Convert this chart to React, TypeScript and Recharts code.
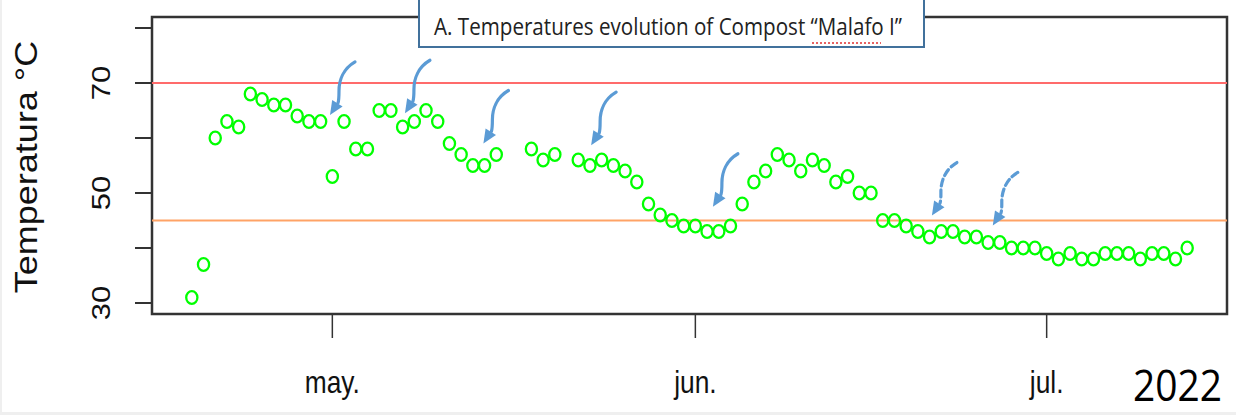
import { ReferenceArea, ReferenceDot, ReferenceLine, Scatter, ScatterChart, XAxis, YAxis } from "recharts"

// days counted from 1 May 2022 (0 = may 1, 31 = jun 1, 61 = jul 1)
const days = [
  -12, -11, -10, -9, -8, -7, -6, -5, -4, -3, -2, -1, 0, 1, 2, 3, 4, 5, 6, 7, 8, 9, 10, 11, 12, 13, 14,
  17, 18, 19,
  21, 22, 23, 24, 25, 26, 27, 28, 29, 30, 31, 32, 33, 34, 35, 36, 37, 38, 39, 40, 41, 42, 43, 44, 45, 46,
  47, 48, 49, 50, 51, 52, 53, 54, 55, 56, 57, 58, 59, 60, 61, 62, 63, 64, 65, 66, 67, 68, 69, 70, 71, 72, 73,
]
const temps = [
  31, 37, 60, 63, 62, 68, 67, 66, 66, 64, 63, 63, 53, 63, 58, 58, 65, 65, 62, 63, 65, 63, 59, 57, 55, 55, 57,
  58, 56, 57,
  56, 55, 56, 55, 54, 52, 48, 46, 45, 44, 44, 43, 43, 44, 48, 52, 54, 57, 56, 54, 56, 55, 52, 53, 50, 50,
  45, 45, 44, 43, 42, 43, 43, 42, 42, 41, 41, 40, 40, 40, 39, 38, 39, 38, 38, 39, 39, 39, 38, 39, 39, 38, 40,
]

const monthTicks = [0, 31, 61]
const monthLabels = ["may.", "jun.", "jul."]
const yTicks = [30, 40, 50, 60, 70, 80]
const yLabelled = [30, 50, 70]
const upperLimit = 70
const lowerLimit = 45

// arrow tips (day, temperature) and whether drawn dashed
const arrowDays = [-0.2, 6.2, 12.9, 22.1, 32.5, 51.2, 56.4]
const arrowTemps = [64.2, 64.5, 59.0, 58.7, 47.5, 45.9, 44.1]
const arrowDashed = [false, false, false, false, false, true, true]

const data = days.map((d, i) => ({ day: d, temp: temps[i] }))

const Ring = (props: any) => {
  const { cx, cy } = props
  return <ellipse cx={cx} cy={cy} rx={5.6} ry={6.3} fill="none" stroke="#00ff00" strokeWidth={2.3} />
}

const makeArrow = (dashed: boolean) => (props: any) => {
  const { cx, cy } = props
  return (
    <g transform={`translate(${cx},${cy})`}>
      <path
        d="M 25 -53 C 13 -46 9 -34 9 -24 C 9 -18 9 -15 8 -12"
        fill="none"
        stroke="#5b9bd5"
        strokeWidth={3.2}
        strokeLinecap="round"
        strokeDasharray={dashed ? "7 4" : undefined}
      />
      <polygon points="0,0 12.6,-8.4 2.2,-15" fill="#5b9bd5" />
    </g>
  )
}

const MonthTick = (props: any) => {
  const { x, y, payload } = props
  const label = monthLabels[monthTicks.indexOf(payload.value)]
  return (
    <text
      transform={`translate(${x},${y + 53}) scale(0.85,1)`}
      textAnchor="middle"
      fontFamily="Liberation Sans, Arial, sans-serif"
      fontSize={31}
      fill="#111"
    >
      {label}
    </text>
  )
}

const TempTick = (props: any) => {
  const { x, y, payload } = props
  if (!yLabelled.includes(payload.value)) return null
  return (
    <text
      transform={`translate(${x - 23},${y}) scale(0.85,1) rotate(-90)`}
      textAnchor="middle"
      fontFamily="Liberation Sans, Arial, sans-serif"
      fontSize={31}
      fill="#111"
    >
      {payload.value}
    </text>
  )
}

export default function App() {
  return (
    <div style={{ position: "absolute", left: 0, top: 0, width: 1236, height: 415, background: "#fff" }}>
      <ScatterChart width={1236} height={415} margin={{ top: 17, right: 9, bottom: 0, left: 0 }}>
        <XAxis
          type="number"
          dataKey="day"
          domain={[-15.4, 76.4]}
          ticks={monthTicks}
          axisLine={false}
          tickLine={{ stroke: "#333", strokeWidth: 1.5 }}
          tickSize={24}
          height={101}
          tick={<MonthTick />}
          allowDataOverflow
        />
        <YAxis
          type="number"
          dataKey="temp"
          domain={[28, 82]}
          ticks={yTicks}
          axisLine={false}
          tickLine={{ stroke: "#333", strokeWidth: 2 }}
          tickSize={17}
          width={152}
          tick={<TempTick />}
          allowDataOverflow
        />
        <ReferenceLine y={upperLimit} stroke="#ff6b6b" strokeWidth={2} />
        <ReferenceLine y={lowerLimit} stroke="#ffa366" strokeWidth={2} />
        <Scatter data={data} shape={<Ring />} isAnimationActive={false} />
        {arrowDays.map((d, i) => (
          <ReferenceDot key={i} x={d} y={arrowTemps[i]} shape={makeArrow(arrowDashed[i])} />
        ))}
        <ReferenceArea x1={-15.4} x2={76.4} y1={28} y2={82} fill="none" stroke="#333" strokeWidth={2.5} />
      </ScatterChart>
      <svg
        width={1236}
        height={415}
        style={{ position: "absolute", left: 0, top: 0, pointerEvents: "none" }}
      >
        <rect x={0} y={0} width={2} height={415} fill="#efefef" />
        <rect x={0} y={412} width={1236} height={3} fill="#efefef" />
        <rect x={419} y={-3} width={505} height={50} fill="#fff" stroke="#41719c" strokeWidth={2} />
        <text
          x={434}
          y={35}
          fontFamily="Open Sans, sans-serif"
          fontSize={23}
          textLength={468}
          lengthAdjust="spacingAndGlyphs"
          fill="#222"
        >
          A. Temperatures evolution of Compost “Malafo I”
        </text>
        <line x1={812} y1={43} x2={881} y2={43} stroke="#e03030" strokeWidth={1.5} strokeDasharray="2 2" />
        <text
          x={1133}
          y={401}
          fontFamily="Open Sans, sans-serif"
          fontSize={43}
          textLength={89}
          lengthAdjust="spacingAndGlyphs"
          fill="#000"
        >
          2022
        </text>
        <text
          transform="translate(37,167) scale(0.85,1) rotate(-90)"
          textAnchor="middle"
          fontFamily="Liberation Sans, Arial, sans-serif"
          fontSize={36}
          fill="#111"
        >
          Temperatura °C
        </text>
      </svg>
    </div>
  )
}
